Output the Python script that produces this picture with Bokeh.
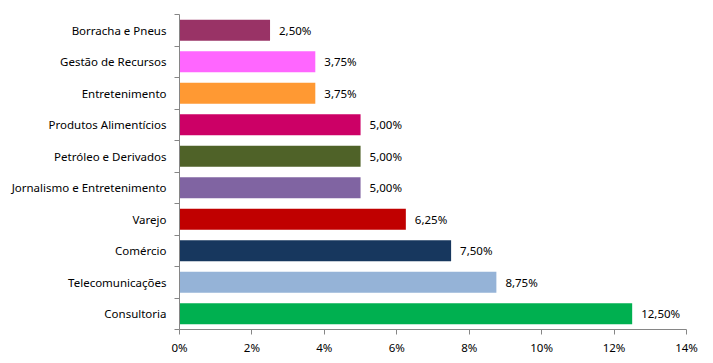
from bokeh.plotting import figure
from bokeh.models import ColumnDataSource, FixedTicker, PrintfTickFormatter, Range1d
from bokeh.core.properties import value
from bokeh.embed import file_html
from bokeh.resources import INLINE

# Data (top to bottom as shown)
categories = ["Borracha e Pneus", "Gestão de Recursos", "Entretenimento",
              "Produtos Alimentícios", "Petróleo e Derivados",
              "Jornalismo e Entretenimento", "Varejo", "Comércio",
              "Telecomunicações", "Consultoria"]
values = [2.50, 3.75, 3.75, 5.00, 5.00, 5.00, 6.25, 7.50, 8.75, 12.50]
colors = ["#993366", "#FF66FF", "#FF9933", "#CC0066", "#4F6228",
          "#8064A2", "#C00000", "#17375E", "#95B3D7", "#00B050"]
x_ticks = [0, 2, 4, 6, 8, 10, 12, 14]

n = len(categories)
pos = [n - 1 - i + 0.5 for i in range(n)]
labels = [f"{v:.2f}".replace(".", ",") + "%" for v in values]

src = ColumnDataSource(dict(cat=categories, val=values, col=colors, pos=pos, lab=labels))

FONT = "Noto Sans"
FS = "11.5px"

p = figure(width=713, height=363, output_backend="svg", toolbar_location=None,
           x_range=Range1d(0, 14), y_range=Range1d(0, n),
           min_border_left=179, min_border_right=27, min_border_top=14, min_border_bottom=34)
p.outline_line_color = None
p.xgrid.visible = False
p.ygrid.visible = False

p.hbar(y="pos", right="val", left=0, height=0.66, fill_color="col", line_color=None, source=src)
p.text(x="val", y="pos", text="lab", x_offset=9, text_baseline="middle", text_align="left",
       text_font=value(FONT), text_font_size=FS, text_color="black", source=src)

axis_color = "#868686"
# x axis
p.xaxis.ticker = FixedTicker(ticks=x_ticks)
p.xaxis.formatter = PrintfTickFormatter(format="%d%%")
p.xaxis.axis_line_color = axis_color
p.xaxis.major_tick_line_color = axis_color
p.xaxis.major_tick_out = 5
p.xaxis.major_tick_in = 0
p.xaxis.minor_tick_line_color = None
p.xaxis.major_label_standoff = 5
p.xaxis.major_label_text_font = FONT
p.xaxis.major_label_text_font_size = FS
p.xaxis.major_label_text_color = "black"

# y axis: labels at centers, ticks at boundaries (minor ticks)
p.yaxis.ticker = FixedTicker(ticks=pos, minor_ticks=list(range(n + 1)))
p.yaxis.major_label_overrides = {pv: c for pv, c in zip(pos, categories)}
p.yaxis.axis_line_color = axis_color
p.yaxis.major_tick_line_color = None
p.yaxis.major_tick_out = 0
p.yaxis.major_tick_in = 0
p.yaxis.minor_tick_line_color = axis_color
p.yaxis.minor_tick_out = 5
p.yaxis.minor_tick_in = 0
p.yaxis.major_label_standoff = 8
p.yaxis.major_label_text_font = FONT
p.yaxis.major_label_text_font_size = FS
p.yaxis.major_label_text_color = "black"

open("out.html", "w").write(file_html(p, INLINE))
